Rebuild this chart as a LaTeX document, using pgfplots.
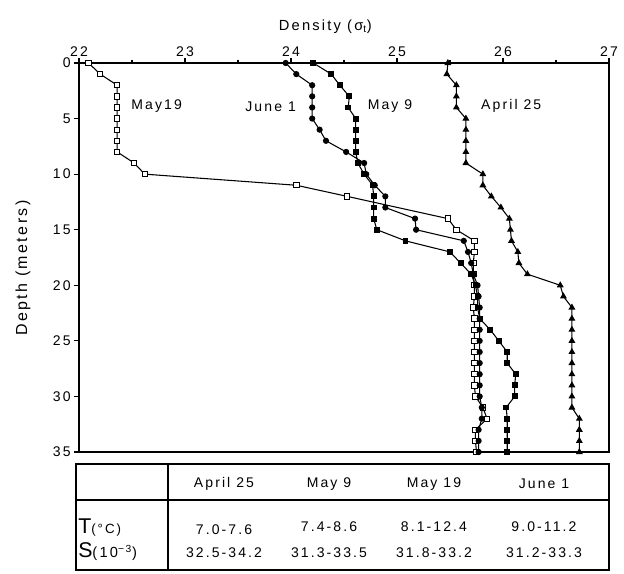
\documentclass[border=0pt]{standalone}
\usepackage{fontspec}
\setmainfont{Liberation Sans}[LetterSpace=15]
\usepackage{pgfplots}
\pgfplotsset{compat=1.18}
\begin{document}
\begin{tikzpicture}
\begin{axis}[
  at={(59.25pt,-47.25pt)}, anchor=north west,
  scale only axis, width=397.5pt, height=291.75pt,
  xmin=22, xmax=27, ymin=0, ymax=35, y dir=reverse,
  xtick={22,23,24,25,26,27}, minor x tick num=1,
  ytick={0,5,10,15,20,25,30,35},
  xtick pos=upper, xticklabel pos=upper, ytick pos=left,
  tick align=outside,
  major tick length=3.75pt, minor tick length=2.5pt,
  every tick/.style={black, line width=0.8pt},
  axis line style={line width=0.9pt},
  /pgf/number format/assume math mode=true,
  ticklabel style={font=\fontsize{10.5}{12}\selectfont},
  xticklabel style={yshift=-2.5pt},
  yticklabel style={xshift=1pt},
  xlabel={Density (σ\textsubscript{t})},
  ylabel={Depth (meters)},
  xlabel style={font=\fontsize{11}{13}\selectfont, yshift=3pt, xshift=-14pt},
  ylabel style={font=\fontsize{12}{14}\selectfont, yshift=10pt, xshift=-8pt},
  clip=false,
  every axis plot/.append style={black, line width=0.8pt},
]
% May 19 (open squares)
\addplot[mark=square*, mark options={fill=white, line width=0.7pt}, mark size=2pt] coordinates {
(22.09,0)(22.2,1)(22.36,2)(22.36,3)(22.36,4)(22.36,5)(22.36,6)(22.36,7)(22.36,8)(22.52,9)(22.62,10)(24.05,11)(24.53,12)(25.48,14)(25.56,15)(25.73,16)(25.73,17)(25.72,18)(25.72,19)(25.73,20)(25.73,21)(25.72,22)(25.73,23)(25.73,24)(25.73,25)(25.73,26)(25.73,27)(25.73,28)(25.73,29)(25.74,30)(25.81,31)(25.85,32)(25.74,33)(25.74,34)(25.75,35)
};
% June 1 (filled circles)
\addplot[mark=*, mark size=1.9pt] coordinates {
(23.95,0)(24.05,1)(24.2,2)(24.2,3)(24.2,4)(24.2,5)(24.27,6)(24.33,7)(24.52,8)(24.69,9)(24.71,10)(24.79,11)(24.89,12)(24.89,13)(25.17,14)(25.18,15)(25.63,16)(25.67,17)(25.7,18)(25.72,19)(25.76,20)(25.77,21)(25.78,22)(25.78,23)(25.78,24)(25.78,25)(25.78,26)(25.78,27)(25.78,28)(25.78,29)(25.78,30)(25.8,31)(25.8,32)(25.77,33)(25.77,34)(25.77,35)
};
% May 9 (filled squares)
\addplot[mark=square*, mark size=1.8pt] coordinates {
(24.21,0)(24.38,1)(24.46,2)(24.55,3)(24.54,4)(24.61,5)(24.61,6)(24.61,7)(24.61,8)(24.63,9)(24.69,10)(24.77,11)(24.78,12)(24.78,13)(24.78,14)(24.81,15)(25.08,16)(25.5,17)(25.6,18)(25.7,19)(25.74,20)(25.76,21)(25.76,22)(25.78,23)(25.88,24)(25.96,25)(26.04,26)(26.04,27)(26.12,28)(26.11,29)(26.11,30)(26.03,31)(26.04,32)(26.04,33)(26.04,34)(26.04,35)
};
% April 25 (filled triangles)
\addplot[mark=triangle*, mark size=2.2pt] coordinates {
(25.48,0)(25.47,1)(25.56,2)(25.56,3)(25.56,4)(25.65,5)(25.65,6)(25.65,7)(25.65,8)(25.65,9)(25.81,10)(25.81,11)(25.89,12)(25.98,13)(26.06,14)(26.07,15)(26.08,16)(26.14,17)(26.15,18)(26.23,19)(26.54,20)(26.57,21)(26.65,22)(26.65,23)(26.65,24)(26.65,25)(26.65,26)(26.65,27)(26.65,28)(26.65,29)(26.65,30)(26.65,31)(26.72,32)(26.72,33)(26.72,34)(26.72,35)
};
\node[anchor=west, font=\fontsize{10.5}{12}\selectfont] at (axis cs:22.45,3.9) {May19};
\node[anchor=east, font=\fontsize{10.5}{12}\selectfont] at (axis cs:24.09,3.9) {June 1};
\node[anchor=west, font=\fontsize{10.5}{12}\selectfont] at (axis cs:24.68,3.9) {May 9};
\node[anchor=west, font=\fontsize{10.5}{12}\selectfont] at (axis cs:25.75,3.9) {April 25};
\end{axis}
% table below
\draw[line width=0.8pt] (57pt,-348pt) rectangle (456.75pt,-427.5pt);
\draw[line width=0.8pt] (126pt,-348pt) -- (126pt,-427.5pt);
\draw[line width=0.8pt] (57pt,-375pt) -- (456.75pt,-375pt);
\begin{scope}[every node/.style={font=\fontsize{10.5}{12}\selectfont}]
\node at (168pt,-363pt) {April 25};
\node at (246.75pt,-363pt) {May 9};
\node at (325.5pt,-363pt) {May 19};
\node at (408pt,-363pt) {June 1};
\node at (168pt,-397pt) {7.0-7.6};
\node at (246.75pt,-395pt) {7.4-8.6};
\node at (325.5pt,-395pt) {8.1-12.4};
\node at (408pt,-395pt) {9.0-11.2};
\node at (168pt,-414.5pt) {32.5-34.2};
\node at (246.75pt,-414.5pt) {31.3-33.5};
\node at (325.5pt,-414.5pt) {31.8-33.2};
\node at (408pt,-414.5pt) {31.2-33.3};
\end{scope}
\node[anchor=west, inner sep=0pt] at (58.5pt,-395.5pt) {\fontsize{16}{18}\selectfont T{\fontsize{10}{12}\selectfont(°C)}};
\node[anchor=west, inner sep=0pt] at (58.5pt,-414pt) {\fontsize{16}{18}\selectfont S{\fontsize{11}{13}\selectfont(10\textsuperscript{−3})}};
\pgfresetboundingbox
\path[use as bounding box] (0pt,0pt) rectangle (468pt,-430.5pt);
\end{tikzpicture}
\end{document}
